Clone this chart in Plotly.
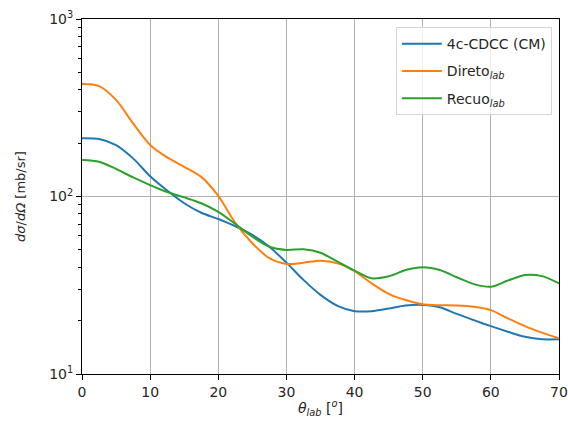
import plotly.graph_objects as go

# Angles (deg, lab) and cross sections (mb/sr)
theta = [0, 2.5, 5, 7.5, 10, 12.5, 15, 17.5, 20, 22.5, 25, 27.5, 30, 32.5, 35,
         37.5, 40, 42.5, 45, 47.5, 50, 52.5, 55, 57.5, 60, 62.5, 65, 67.5, 70]

cdcc = [213, 211, 195, 164, 130, 108, 91.6, 81, 74.7, 68, 60.7, 52.1, 42.4, 33.9, 27.9,
        24.2, 22.6, 22.6, 23.4, 24.3, 24.5, 23.8, 21.8, 20.1, 18.6, 17.3, 16.2, 15.7, 15.7]

direto = [430, 419, 350, 258, 195, 166, 147, 129, 100.7, 71, 54.5, 44.9, 41.7, 42.4, 43.5,
          42.0, 38.0, 32.4, 28.3, 26.1, 24.7, 24.4, 24.3, 23.9, 22.9, 20.6, 18.6, 17.1, 15.9]

recuo = [160.7, 157, 143, 128, 116, 106, 98.9, 91.6, 82, 70, 59.4, 52.1, 50.0, 50.4, 48.2,
         42.9, 38.2, 34.6, 35.5, 38.5, 39.9, 38.5, 35.1, 32.1, 31.0, 33.6, 36.1, 35.6, 32.4]

x_ticks = [0, 10, 20, 30, 40, 50, 60, 70]
y_ticks = [10, 100, 1000]
y_ticktext = ["10<sup>1</sup>", "10<sup>2</sup>", "10<sup>3</sup>"]
y_minor = [20, 30, 40, 50, 60, 70, 80, 90, 200, 300, 400, 500, 600, 700, 800, 900]

fig = go.Figure()
fig.add_trace(go.Scatter(x=theta, y=cdcc, mode="lines", name="4c-CDCC (CM)", legendgroup="a",
                         line=dict(color="#1f77b4", width=2, shape="spline", smoothing=0.8)))
fig.add_trace(go.Scatter(x=theta, y=direto, mode="lines", name="Direto<sub><i>lab</i></sub>", legendgroup="b",
                         line=dict(color="#ff7f0e", width=2, shape="spline", smoothing=0.8)))
fig.add_trace(go.Scatter(x=theta, y=recuo, mode="lines", name="Recuo<sub><i>lab</i></sub>", legendgroup="c",
                         line=dict(color="#2ca02c", width=2, shape="spline", smoothing=0.8)))

fig.update_layout(
    width=568, height=425,
    margin=dict(l=82, r=9, t=19, b=51),
    paper_bgcolor="white", plot_bgcolor="white",
    font=dict(family="DejaVu Sans", size=14, color="#262626"),
    showlegend=True,
    legend=dict(x=0.985, y=0.977, xanchor="right", yanchor="top",
                bgcolor="rgba(255,255,255,0.8)", bordercolor="#d6d6d6", borderwidth=1,
                font=dict(size=14), tracegroupgap=6, itemwidth=40),
    xaxis=dict(range=[0, 70], tickvals=x_ticks, ticks="outside", ticklen=5, tickwidth=1,
               tickcolor="black", showline=True, linecolor="black", linewidth=1, mirror=True,
               showgrid=True, gridcolor="#b0b0b0", gridwidth=1, zeroline=False, automargin=False,
               ticklabeloverflow="allow",
               title=dict(text="<i>θ</i><sub><i>lab</i></sub> [<sup><i>o</i></sup>]", standoff=4,
                          font=dict(size=14))),
    yaxis=dict(type="log", range=[1, 3], tickvals=y_ticks, ticktext=y_ticktext,
               ticks="outside", ticklen=5, tickwidth=1, tickcolor="black",
               showline=True, linecolor="black", linewidth=1, mirror=True,
               showgrid=True, gridcolor="#b0b0b0", gridwidth=1, zeroline=False, automargin=False,
               ticklabeloverflow="allow",
               minor=dict(ticks="outside", ticklen=3, tickcolor="black", showgrid=False,
                          tickvals=y_minor),
               title=dict(text="<i>dσ</i>/<i>dΩ</i> [mb/sr]", standoff=20, font=dict(size=13))),
)

# remove the default 8px body margin so the 568x425 figure fills the window exactly
fig.write_html("out.html", config={"displayModeBar": False},
               post_script="document.body.style.margin='0';document.body.style.overflow='hidden';")
